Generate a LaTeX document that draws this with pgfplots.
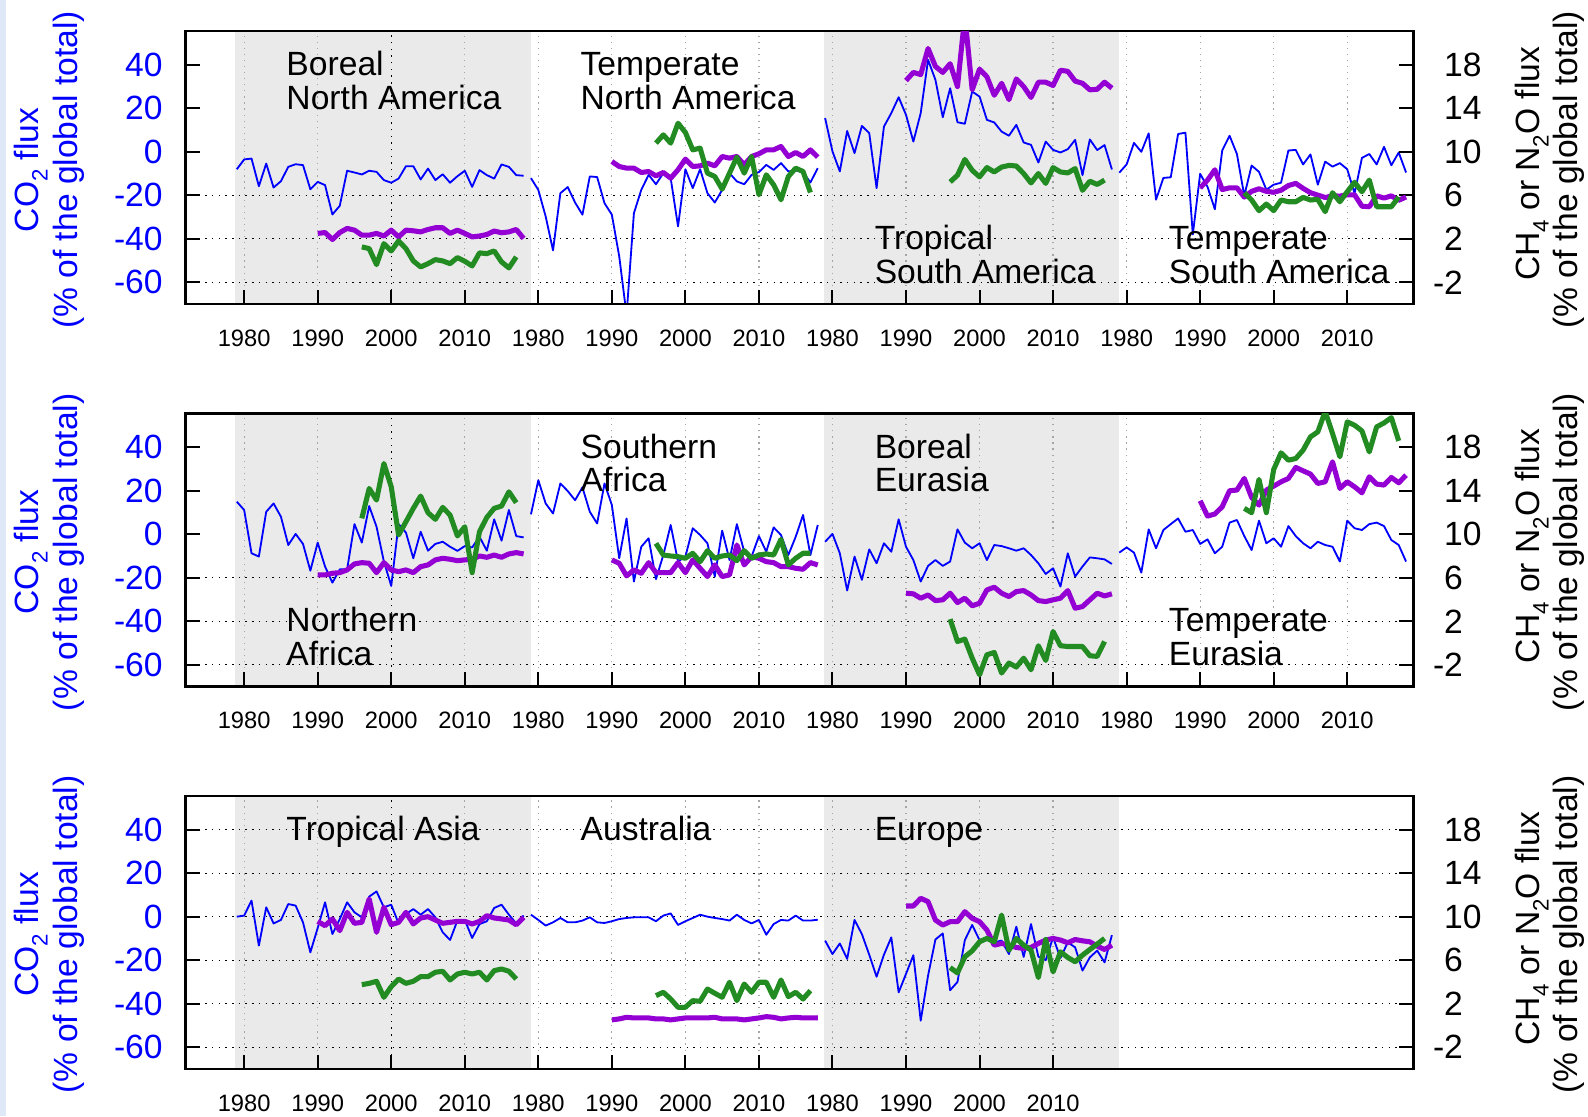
\documentclass[border=0pt]{standalone}
\usepackage{fontspec}
\setmainfont{Liberation Sans}
\usepackage{pgfplots}
\pgfplotsset{compat=1.18}
\definecolor{co2}{RGB}{0,0,255}
\definecolor{ch4}{RGB}{148,0,211}
\definecolor{n2o}{RGB}{34,139,34}
\definecolor{bgshade}{RGB}{234,234,234}
\definecolor{vgc}{RGB}{165,165,165}
\definecolor{stripe}{RGB}{222,232,246}
\newcommand\tl{\fontsize{16.6}{19}\selectfont}
\newcommand\xl{\fontsize{11.7}{14}\selectfont}
\newcommand\sub[1]{\raisebox{-4.5pt}{\fontsize{11}{11}\selectfont #1}}
\tikzset{
  vg/.style={draw=vgc, line width=0.6pt, dash pattern=on 0.6pt off 2.4pt},
  hg/.style={draw=black, line width=0.6pt, dash pattern=on 0.7pt off 2.6pt},
  lab/.style={anchor=base west, font=\tl, inner sep=0pt},
}
\pgfplotsset{
  rowbase/.style={scale only axis, width=606.3pt, height=134.8pt, xmin=1972, xmax=2139,
    anchor=south west, axis line style={line width=1.2pt}, tick align=inside,
    major tick length=7pt, tick style={black, line width=1pt}},
  leftax/.style={rowbase, ymin=-70, ymax=55.5, axis on top,
    ytick={-60,-40,-20,0,20,40}, yticklabels={-60,-40,-20,0,20,40},
    ytick pos=left, xtick pos=left,
    yticklabel style={font=\tl, text=co2, anchor=east, inner sep=0pt, xshift=-11pt},
    xticklabel style={font=\xl, anchor=north, inner sep=0pt, yshift=-12.5pt}},
  rightax/.style={rowbase, ymin=-4, ymax=21.1,
    ytick={-2,2,6,10,14,18}, yticklabels={\llap{-}2,2,6,10,14,18},
    ytick pos=right, yticklabel pos=right, xtick=\empty,
    yticklabel style={font=\tl, anchor=west, inner sep=0pt, xshift=15pt}},
  xfull/.style={xtick={1980,1990,2000,2010,2020,2030,2040,2050,2060,2070,2080,2090,2100,2110,2120,2130},
    xticklabels={1980,1990,2000,2010,1980,1990,2000,2010,1980,1990,2000,2010,1980,1990,2000,2010}},
  xthree/.style={xtick={1980,1990,2000,2010,2020,2030,2040,2050,2060,2070,2080,2090},
    xticklabels={1980,1990,2000,2010,1980,1990,2000,2010,1980,1990,2000,2010}},
  s1/.style={},
  s2/.style={x filter/.expression={x+40}},
  s3/.style={x filter/.expression={x+80}},
  s4/.style={x filter/.expression={x+120}},
  co2l/.style={co2, line width=0.9pt, line join=round, mark=none},
  ch4l/.style={ch4, line width=2.5pt, line join=round, mark=none},
  n2ol/.style={n2o, line width=2.5pt, line join=round, mark=none},
}
\newcommand\shades{%
  \fill[bgshade] (axis cs:1978.8,-70) rectangle (axis cs:2019,55.5);
  \fill[bgshade] (axis cs:2058.8,-70) rectangle (axis cs:2099,55.5);}
\newcommand\vgridfull{\pgfplotsinvokeforeach{1980,1990,2010,2020,2030,2040,2050,2060,2070,2080,2090,2100,2110,2120,2130}{\draw[vg] (axis cs:##1,-70) -- (axis cs:##1,55.5);}%
  \draw[hg] (axis cs:2000,-70) -- (axis cs:2000,55.5);}
\newcommand\vgridthree{\pgfplotsinvokeforeach{1980,1990,2010,2020,2030,2040,2050,2060,2070,2080,2090}{\draw[vg] (axis cs:##1,-70) -- (axis cs:##1,55.5);}%
  \draw[hg] (axis cs:2000,-70) -- (axis cs:2000,55.5);}
\newcommand\hgrid[1]{\draw[hg] (axis cs:1972,#1) -- (axis cs:2139,#1);}
\newcommand\toplab[3]{\node[lab] at (axis cs:#1,34.9) {#2}; \node[lab] at (axis cs:#1,19.6) {#3};}
\newcommand\botlab[3]{\node[lab] at (axis cs:#1,-44.8) {#2}; \node[lab] at (axis cs:#1,-60.4) {#3};}
\newcommand\ylabs[1]{%
  \node[rotate=90, anchor=base, font=\tl, text=co2] at (19.05pt,#1) {CO\sub{2} flux};
  \node[rotate=90, anchor=base, font=\tl, text=co2] at (38.25pt,#1) {(\% of the global total)};
  \node[rotate=90, anchor=base, font=\tl] at (760pt,#1+3pt) {CH\sub{4} or N\sub{2}O flux};
  \node[rotate=90, anchor=base, font=\tl] at (779pt,#1) {(\% of the global total)};}
\begin{document}
\begin{tikzpicture}
\useasboundingbox (0,0) rectangle (784pt,551pt);
\fill[stripe] (0,0) rectangle (3pt,551pt);
%================ ROW 1 ================
\begin{axis}[leftax, xfull, at={(91.5pt,400.85pt)}]
\shades \vgridfull \hgrid{-20}\hgrid{-40}\hgrid{-60}
% Boreal North America
\addplot[co2l,s1] coordinates {(1979,-8.0)(1980,-3.5)(1981,-3.1)(1982,-15.8)(1983,-5.4)(1984,-16.4)(1985,-13.5)(1986,-6.9)(1987,-5.7)(1988,-6.1)(1989,-17.2)(1990,-13.8)(1991,-15.3)(1992,-28.8)(1993,-24.8)(1994,-8.7)(1995,-9.5)(1996,-10.4)(1997,-8.7)(1998,-9.2)(1999,-13.0)(2000,-14.2)(2001,-12.3)(2002,-6.6)(2003,-6.6)(2004,-12.7)(2005,-7.7)(2006,-13.0)(2007,-10.3)(2008,-14.2)(2009,-11.2)(2010,-8.7)(2011,-16.1)(2012,-8.4)(2013,-10.7)(2014,-12.3)(2015,-5.8)(2016,-6.9)(2017,-10.7)(2018,-11.0)};
% Temperate North America
\addplot[co2l,s2] coordinates {(1979,-12.1)(1980,-17.5)(1981,-29.7)(1982,-45.3)(1983,-19.0)(1984,-16.2)(1985,-23.3)(1986,-28.9)(1987,-11.3)(1988,-11.6)(1989,-23.6)(1990,-28.9)(1991,-48.0)(1992,-75.0)(1993,-28.2)(1994,-17.5)(1995,-10.6)(1996,-14.9)(1997,-9.8)(1998,-12.1)(1999,-34.3)(2000,-8.0)(2001,-16.7)(2002,-8.0)(2003,-19.0)(2004,-23.3)(2005,-17.5)(2006,-9.8)(2007,-13.6)(2008,-14.9)(2009,-10.6)(2010,-9.3)(2011,-6.0)(2012,-8.3)(2013,-5.2)(2014,-9.0)(2015,-8.6)(2016,-9.3)(2017,-14.1)(2018,-7.5)};
% Tropical South America
\addplot[co2l,s3] coordinates {(1979,15.5)(1980,0.2)(1981,-9.0)(1982,9.6)(1983,-0.6)(1984,11.9)(1985,8.6)(1986,-16.7)(1987,11.6)(1988,17.8)(1989,25.1)(1990,17.0)(1991,4.7)(1992,17.8)(1993,42.3)(1994,33.1)(1995,15.9)(1996,29.2)(1997,13.6)(1998,12.9)(1999,27.7)(2000,25.4)(2001,14.7)(2002,13.5)(2003,9.3)(2004,7.4)(2005,12.4)(2006,4.3)(2007,3.2)(2008,-4.9)(2009,4.7)(2010,0.9)(2011,-0.3)(2012,1.2)(2013,5.5)(2014,-10.7)(2015,5.7)(2016,0.8)(2017,3.1)(2018,-8.1)};
% Temperate South America
\addplot[co2l,s4] coordinates {(1979,-9.6)(1980,-5.8)(1981,4.1)(1982,0.0)(1983,8.5)(1984,-22.0)(1985,-12.0)(1986,-11.7)(1987,8.2)(1988,8.8)(1989,-38.0)(1990,-10.1)(1991,-16.1)(1992,-26.4)(1993,0.6)(1994,7.4)(1995,-1.0)(1996,-20.2)(1997,-6.3)(1998,-9.2)(1999,-17.4)(2000,-15.1)(2001,-14.2)(2002,0.6)(2003,0.9)(2004,-5.8)(2005,-1.2)(2006,-15.1)(2007,-4.5)(2008,-6.8)(2009,-5.2)(2010,-8.0)(2011,-19.1)(2012,-2.8)(2013,-1.0)(2014,-5.8)(2015,2.3)(2016,-6.2)(2017,-0.3)(2018,-9.5)};
\toplab{1985.7}{Boreal}{North America}
\toplab{2025.7}{Temperate}{North America}
\botlab{2065.7}{Tropical}{South America}
\botlab{2105.7}{Temperate}{South America}
\end{axis}
\begin{axis}[rightax, at={(91.5pt,400.85pt)}]
\addplot[ch4l,s1] coordinates {(1990,2.50)(1991,2.58)(1992,1.94)(1993,2.58)(1994,2.96)(1995,2.80)(1996,2.34)(1997,2.34)(1998,2.50)(1999,2.26)(2000,2.80)(2001,2.18)(2002,2.80)(2003,2.74)(2004,2.64)(2005,2.86)(2006,3.02)(2007,3.02)(2008,2.50)(2009,2.80)(2010,2.50)(2011,2.18)(2012,2.26)(2013,2.40)(2014,2.72)(2015,2.56)(2016,2.64)(2017,2.86)(2018,2.04)};
\addplot[n2ol,s1] coordinates {(1996,1.26)(1997,1.10)(1998,-0.37)(1999,1.56)(2000,0.89)(2001,1.81)(2002,1.10)(2003,-0.03)(2004,-0.58)(2005,-0.28)(2006,0.09)(2007,-0.03)(2008,-0.28)(2009,0.28)(2010,-0.06)(2011,-0.49)(2012,0.71)(2013,0.64)(2014,0.89)(2015,-0.12)(2016,-0.67)(2017,0.34)};
\addplot[ch4l,s2] coordinates {(1990,9.11)(1991,8.65)(1992,8.50)(1993,8.50)(1994,8.10)(1995,8.19)(1996,7.79)(1997,8.10)(1998,7.58)(1999,8.35)(2000,9.33)(2001,8.65)(2002,8.71)(2003,8.96)(2004,8.71)(2005,9.57)(2006,9.42)(2007,9.57)(2008,8.81)(2009,9.57)(2010,9.82)(2011,10.18)(2012,10.18)(2013,10.49)(2014,9.57)(2015,9.94)(2016,9.57)(2017,10.18)(2018,9.51)};
\addplot[n2ol,s2] coordinates {(1996,10.80)(1997,11.56)(1998,10.80)(1999,12.63)(2000,11.78)(2001,10.18)(2002,10.34)(2003,8.04)(2004,7.73)(2005,6.57)(2006,8.04)(2007,9.51)(2008,8.04)(2009,9.57)(2010,6.05)(2011,7.89)(2012,6.97)(2013,5.59)(2014,7.73)(2015,8.50)(2016,8.19)(2017,6.26)};
\addplot[ch4l,s3] coordinates {(1990,16.55)(1991,17.3)(1992,17.1)(1993,19.5)(1994,17.85)(1995,17.3)(1996,18.1)(1997,16.0)(1998,22.5)(1999,15.7)(2000,17.6)(2001,16.9)(2002,15.2)(2003,16.3)(2004,14.8)(2005,16.7)(2006,16.0)(2007,15.0)(2008,16.4)(2009,16.4)(2010,16.1)(2011,17.5)(2012,17.4)(2013,16.5)(2014,16.3)(2015,15.7)(2016,15.75)(2017,16.4)(2018,15.85)};
\addplot[n2ol,s3] coordinates {(1996,7.23)(1997,7.85)(1998,9.3)(1999,8.3)(2000,7.7)(2001,8.55)(2002,8.15)(2003,8.6)(2004,8.75)(2005,8.7)(2006,8.0)(2007,7.14)(2008,8.0)(2009,7.1)(2010,8.55)(2011,8.15)(2012,8.06)(2013,8.46)(2014,6.46)(2015,7.3)(2016,7.0)(2017,7.4)};
\addplot[ch4l,s4] coordinates {(1990,6.69)(1991,7.40)(1992,8.35)(1993,6.53)(1994,6.69)(1995,6.69)(1996,5.84)(1997,6.37)(1998,6.6)(1999,6.37)(2000,6.28)(2001,6.47)(2002,6.9)(2003,7.1)(2004,6.64)(2005,6.24)(2006,6.02)(2007,5.8)(2008,5.95)(2009,5.93)(2010,6.05)(2011,6.05)(2012,5.0)(2013,4.95)(2014,5.95)(2015,5.75)(2016,5.95)(2017,5.55)(2018,5.85)};
\addplot[n2ol,s4] coordinates {(1996,6.24)(1997,5.57)(1998,4.59)(1999,5.20)(2000,4.59)(2001,5.57)(2002,5.41)(2003,5.41)(2004,5.81)(2005,5.57)(2006,5.63)(2007,4.50)(2008,6.24)(2009,5.41)(2010,6.33)(2011,7.20)(2012,6.33)(2013,7.40)(2014,4.95)(2015,4.95)(2016,4.95)(2017,5.84)};
\end{axis}
\ylabs{467.1pt}
%================ ROW 2 ================
\begin{axis}[leftax, xfull, at={(91.5pt,212pt)}]
\shades \vgridfull \hgrid{-20}\hgrid{-40}\hgrid{-60}
% Northern Africa
\addplot[co2l,s1] coordinates {(1979,15.0)(1980,11.2)(1981,-8.7)(1982,-10.2)(1983,10.4)(1984,14.2)(1985,8.1)(1986,-4.9)(1987,0.2)(1988,-4.4)(1989,-16.7)(1990,-3.8)(1991,-14.8)(1992,-22.2)(1993,-16.1)(1994,-16.1)(1995,4.7)(1996,-3.8)(1997,13.0)(1998,3.5)(1999,-12.5)(2000,-23.7)(2001,4.7)(2002,0.8)(2003,-11.0)(2004,1.2)(2005,-7.5)(2006,-4.4)(2007,-3.4)(2008,-5.7)(2009,-7.6)(2010,-5.4)(2011,-6.0)(2012,-1.1)(2013,-7.5)(2014,6.9)(2015,-2.9)(2016,11.2)(2017,-0.8)(2018,-1.4)};
% Southern Africa
\addplot[co2l,s2] coordinates {(1979,9.2)(1980,24.9)(1981,14.2)(1982,9.6)(1983,23.4)(1984,19.9)(1985,15.7)(1986,21.6)(1987,10.4)(1988,5.0)(1989,23.4)(1990,13.5)(1991,-11.0)(1992,7.3)(1993,-21.7)(1994,-5.7)(1995,-1.8)(1996,-20.6)(1997,-9.5)(1998,4.3)(1999,-12.5)(2000,-10.2)(2001,2.8)(2002,-0.3)(2003,-4.1)(2004,-19.4)(2005,1.7)(2006,-11.8)(2007,4.7)(2008,-8.0)(2009,-10.2)(2010,-0.8)(2011,-8.0)(2012,3.2)(2013,-0.3)(2014,-9.5)(2015,-1.1)(2016,8.9)(2017,-9.5)(2018,4.3)};
% Boreal Eurasia
\addplot[co2l,s3] coordinates {(1979,-3.4)(1980,0.2)(1981,-8.7)(1982,-25.8)(1983,-10.2)(1984,-20.9)(1985,-6.9)(1986,-13.3)(1987,-4.1)(1988,-8.0)(1989,6.9)(1990,-5.7)(1991,-11.8)(1992,-21.7)(1993,-14.5)(1994,-11.8)(1995,-14.5)(1996,-12.5)(1997,2.3)(1998,-3.8)(1999,-6.4)(2000,-4.1)(2001,-11.8)(2002,-4.9)(2003,-5.4)(2004,-6.4)(2005,-7.5)(2006,-6.4)(2007,-9.5)(2008,-13.3)(2009,-18.2)(2010,-15.6)(2011,-24.0)(2012,-8.7)(2013,-19.4)(2014,-14.8)(2015,-10.6)(2016,-11.0)(2017,-11.5)(2018,-13.6)};
% Temperate Eurasia
\addplot[co2l,s4] coordinates {(1979,-8.4)(1980,-6.0)(1981,-8.4)(1982,-17.6)(1983,2.3)(1984,-6.4)(1985,2.0)(1986,4.7)(1987,7.3)(1988,1.2)(1989,2.0)(1990,-4.4)(1991,-2.3)(1992,-8.7)(1993,-5.7)(1994,5.4)(1995,6.6)(1996,-0.8)(1997,-7.2)(1998,6.3)(1999,-4.1)(2000,-1.8)(2001,-5.7)(2002,3.8)(2003,-0.8)(2004,-4.1)(2005,-6.4)(2006,-3.4)(2007,-4.9)(2008,-5.7)(2009,-12.5)(2010,6.3)(2011,2.8)(2012,2.0)(2013,4.7)(2014,5.4)(2015,3.8)(2016,-2.6)(2017,-4.9)(2018,-12.5)};
\botlab{1985.7}{Northern}{Africa}
\toplab{2025.7}{Southern}{Africa}
\toplab{2065.7}{Boreal}{Eurasia}
\botlab{2105.7}{Temperate}{Eurasia}
\end{axis}
\begin{axis}[rightax, at={(91.5pt,212pt)}]
\addplot[ch4l,s1] coordinates {(1990,6.27)(1991,6.27)(1992,6.42)(1993,6.48)(1994,6.73)(1995,7.28)(1996,7.40)(1997,7.34)(1998,6.48)(1999,7.40)(2000,6.73)(2001,6.57)(2002,6.73)(2003,6.48)(2004,7.03)(2005,7.19)(2006,7.65)(2007,7.80)(2008,7.71)(2009,7.58)(2010,7.65)(2011,7.71)(2012,8.01)(2013,7.89)(2014,8.10)(2015,7.89)(2016,8.20)(2017,8.32)(2018,8.20)};
\addplot[n2ol,s1] coordinates {(1996,11.47)(1997,14.22)(1998,13.15)(1999,16.51)(2000,14.37)(2001,9.94)(2002,11.16)(2003,12.39)(2004,13.52)(2005,11.99)(2006,11.38)(2007,12.48)(2008,11.77)(2009,9.85)(2010,10.70)(2011,6.48)(2012,10.24)(2013,11.56)(2014,12.39)(2015,12.60)(2016,13.91)(2017,12.91)};
\addplot[ch4l,s2] coordinates {(1990,7.65)(1991,7.34)(1992,6.18)(1993,6.73)(1994,6.42)(1995,7.40)(1996,6.48)(1997,6.48)(1998,6.48)(1999,7.40)(2000,6.48)(2001,7.65)(2002,6.88)(2003,6.12)(2004,7.19)(2005,6.12)(2006,6.27)(2007,9.02)(2008,7.19)(2009,7.95)(2010,7.80)(2011,7.49)(2012,7.40)(2013,7.03)(2014,7.03)(2015,6.88)(2016,6.79)(2017,7.40)(2018,7.19)};
\addplot[n2ol,s2] coordinates {(1996,9.17)(1997,8.10)(1998,8.01)(1999,7.95)(2000,7.80)(2001,8.26)(2002,7.49)(2003,8.50)(2004,7.80)(2005,8.01)(2006,8.10)(2007,7.58)(2008,8.50)(2009,7.80)(2010,8.10)(2011,8.20)(2012,8.10)(2013,9.54)(2014,7.19)(2015,7.80)(2016,8.26)(2017,8.26)};
\addplot[ch4l,s3] coordinates {(1990,4.59)(1991,4.53)(1992,4.13)(1993,4.43)(1994,3.91)(1995,3.98)(1996,4.59)(1997,3.73)(1998,4.13)(1999,3.43)(2000,3.67)(2001,4.89)(2002,5.14)(2003,4.59)(2004,4.28)(2005,4.74)(2006,4.83)(2007,4.43)(2008,3.91)(2009,3.82)(2010,3.98)(2011,4.13)(2012,4.83)(2013,3.21)(2014,3.36)(2015,3.98)(2016,4.59)(2017,4.34)(2018,4.53)};
\addplot[n2ol,s3] coordinates {(1996,2.20)(1997,0.15)(1998,0.37)(1999,-1.38)(2000,-2.91)(2001,-1.07)(2002,-0.86)(2003,-2.75)(2004,-1.83)(2005,-2.20)(2006,-1.38)(2007,-2.45)(2008,-0.24)(2009,-1.59)(2010,1.07)(2011,-0.24)(2012,-0.31)(2013,-0.31)(2014,-0.31)(2015,-1.16)(2016,-1.22)(2017,0.15)};
\addplot[ch4l,s4] coordinates {(1990,13.09)(1991,11.68)(1992,11.87)(1993,12.54)(1994,14.01)(1995,14.07)(1996,15.14)(1997,13.39)(1998,12.69)(1999,14.07)(2000,14.43)(2001,14.83)(2002,15.14)(2003,16.15)(2004,15.84)(2005,15.54)(2006,14.68)(2007,14.83)(2008,16.67)(2009,14.22)(2010,14.83)(2011,14.37)(2012,13.82)(2013,15.29)(2014,14.62)(2015,14.53)(2016,15.23)(2017,14.74)(2018,15.44)};
\addplot[n2ol,s4] coordinates {(1996,12.39)(1997,11.99)(1998,15.05)(1999,11.99)(2000,15.96)(2001,17.49)(2002,16.82)(2003,16.97)(2004,17.74)(2005,18.96)(2006,19.42)(2007,21.3)(2008,19.27)(2009,17.13)(2010,20.34)(2011,20.03)(2012,19.51)(2013,17.58)(2014,19.88)(2015,20.24)(2016,20.73)(2017,18.59)};
\end{axis}
\ylabs{278.4pt}
%================ ROW 3 ================
\begin{axis}[leftax, xthree, at={(91.5pt,23.25pt)}]
\shades \vgridthree \hgrid{40}\hgrid{20}\hgrid{0}\hgrid{-20}\hgrid{-40}\hgrid{-60}
% Tropical Asia
\addplot[co2l,s1] coordinates {(1979,0.0)(1980,0.5)(1981,7.4)(1982,-13.3)(1983,4.3)(1984,-3.1)(1985,-1.5)(1986,5.8)(1987,5.1)(1988,-2.6)(1989,-16.4)(1990,-5.2)(1991,6.6)(1992,-8.0)(1993,-1.1)(1994,6.6)(1995,2.0)(1996,-0.3)(1997,9.2)(1998,11.6)(1999,4.3)(2000,5.5)(2001,-3.1)(2002,1.2)(2003,3.5)(2004,0.9)(2005,3.5)(2006,-0.3)(2007,-7.2)(2008,-10.7)(2009,-1.8)(2010,-1.5)(2011,-9.8)(2012,-3.4)(2013,-2.1)(2014,4.0)(2015,5.5)(2016,0.9)(2017,-3.1)(2018,0.5)};
% Australia
\addplot[co2l,s2] coordinates {(1979,0.9)(1980,-1.5)(1981,-4.1)(1982,-2.6)(1983,-0.6)(1984,-2.6)(1985,-2.6)(1986,-1.8)(1987,-0.3)(1988,-2.6)(1989,-2.9)(1990,-2.1)(1991,-1.1)(1992,-0.6)(1993,-0.3)(1994,-0.3)(1995,-0.3)(1996,-2.1)(1997,0.5)(1998,1.5)(1999,-3.8)(2000,-2.1)(2001,-0.6)(2002,0.9)(2003,0.0)(2004,-0.6)(2005,-1.1)(2006,-1.8)(2007,0.9)(2008,-1.5)(2009,-3.1)(2010,-1.5)(2011,-8.3)(2012,-3.4)(2013,-1.5)(2014,-1.8)(2015,0.5)(2016,-1.8)(2017,-1.8)(2018,-1.4)};
% Europe
\addplot[co2l,s3] coordinates {(1979,-11.0)(1980,-17.2)(1981,-12.3)(1982,-19.4)(1983,-1.5)(1984,-8.0)(1985,-17.5)(1986,-27.6)(1987,-17.5)(1988,-9.5)(1989,-34.8)(1990,-26.3)(1991,-17.7)(1992,-47.8)(1993,-27.1)(1994,-10.5)(1995,-7.7)(1996,-33.8)(1997,-30.0)(1998,-10.8)(1999,-3.8)(2000,-10.8)(2001,-9.5)(2002,-11.8)(2003,-11.0)(2004,-17.2)(2005,-4.6)(2006,-18.5)(2007,-3.4)(2008,-18.4)(2009,-20.0)(2010,-9.5)(2011,-19.0)(2012,-11.8)(2013,-14.1)(2014,-24.8)(2015,-18.7)(2016,-15.6)(2017,-21.0)(2018,-8.5)};
\node[lab] at (axis cs:1985.7,34.9) {Tropical Asia};
\node[lab] at (axis cs:2025.7,34.9) {Australia};
\node[lab] at (axis cs:2065.7,34.9) {Europe};
\end{axis}
\begin{axis}[rightax, at={(91.5pt,23.25pt)}]
\addplot[ch4l,s1] coordinates {(1990,9.57)(1991,9.17)(1992,9.79)(1993,8.71)(1994,10.40)(1995,9.39)(1996,9.48)(1997,11.62)(1998,8.56)(1999,10.86)(2000,9.26)(2001,9.48)(2002,10.40)(2003,9.33)(2004,9.88)(2005,10.00)(2006,9.69)(2007,9.39)(2008,9.48)(2009,9.57)(2010,9.57)(2011,9.33)(2012,9.57)(2013,10.09)(2014,9.88)(2015,9.79)(2016,9.69)(2017,9.26)(2018,9.94)};
\addplot[n2ol,s1] coordinates {(1996,3.75)(1997,3.87)(1998,4.06)(1999,2.59)(2000,3.57)(2001,4.27)(2002,3.87)(2003,4.06)(2004,4.49)(2005,4.49)(2006,4.89)(2007,4.98)(2008,4.18)(2009,4.73)(2010,4.89)(2011,4.73)(2012,4.89)(2013,4.18)(2014,5.04)(2015,5.19)(2016,4.98)(2017,4.27)};
\addplot[ch4l,s2] coordinates {(1990,0.51)(1991,0.60)(1992,0.75)(1993,0.69)(1994,0.69)(1995,0.69)(1996,0.60)(1997,0.60)(1998,0.51)(1999,0.60)(2000,0.69)(2001,0.69)(2002,0.69)(2003,0.69)(2004,0.75)(2005,0.60)(2006,0.60)(2007,0.60)(2008,0.51)(2009,0.60)(2010,0.69)(2011,0.81)(2012,0.75)(2013,0.60)(2014,0.69)(2015,0.75)(2016,0.69)(2017,0.69)(2018,0.69)};
\addplot[n2ol,s2] coordinates {(1996,2.74)(1997,3.05)(1998,2.43)(1999,1.67)(2000,1.67)(2001,2.28)(2002,2.22)(2003,3.35)(2004,2.96)(2005,2.59)(2006,3.97)(2007,2.28)(2008,3.81)(2009,3.05)(2010,3.97)(2011,3.97)(2012,2.59)(2013,4.18)(2014,2.65)(2015,3.05)(2016,2.43)(2017,3.20)};
\addplot[ch4l,s3] coordinates {(1990,10.98)(1991,10.98)(1992,11.69)(1993,11.38)(1994,9.69)(1995,9.23)(1996,9.54)(1997,9.54)(1998,10.46)(1999,9.85)(2000,9.54)(2001,8.77)(2002,7.38)(2003,7.54)(2004,7.38)(2005,7.17)(2006,7.08)(2007,7.17)(2008,7.54)(2009,7.85)(2010,8.0)(2011,7.85)(2012,7.6)(2013,7.9)(2014,7.78)(2015,7.69)(2016,7.29)(2017,6.98)(2018,7.38)};
\addplot[n2ol,s3] coordinates {(1996,5.32)(1997,4.83)(1998,6.31)(1999,6.86)(2000,7.69)(2001,8.0)(2002,7.69)(2003,10.15)(2004,6.92)(2005,8.0)(2006,7.38)(2007,6.92)(2008,4.4)(2009,7.9)(2010,4.92)(2011,6.77)(2012,6.25)(2013,5.85)(2014,6.46)(2015,6.98)(2016,7.48)(2017,8.0)};
\end{axis}
\ylabs{89.7pt}
\end{tikzpicture}
\end{document}
